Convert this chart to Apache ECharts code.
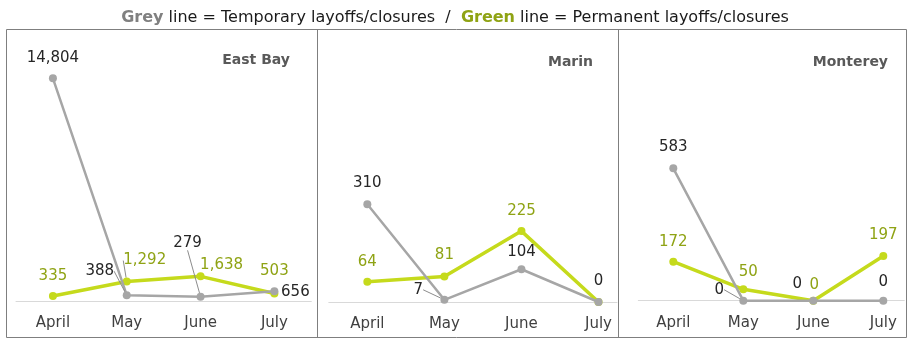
<!DOCTYPE html>
<html>
<head>
<meta charset="utf-8">
<script src="https://cdn.jsdelivr.net/npm/echarts@6/dist/echarts.min.js"></script>
<style>
  html, body { margin: 0; padding: 0; background: #fff; }
  #chart { width: 910px; height: 341px; }
</style>
</head>
<body>
<div id="chart"></div>
<script>
// Monthly layoff / closure counts by region
const months = ['April', 'May', 'June', 'July'];
const regions = ['East Bay', 'Marin', 'Monterey'];

const eastBayTemporary = [14804, 388, 279, 656];
const eastBayPermanent = [335, 1292, 1638, 503];
const marinTemporary = [310, 7, 104, 0];
const marinPermanent = [64, 81, 225, 0];
const montereyTemporary = [583, 0, 0, 0];
const montereyPermanent = [172, 50, 0, 197];

const FONT = "'DejaVu Sans', sans-serif";
const GREY = '#a6a6a6';
const GREEN = '#c5da1c';
const GREEN_TEXT = '#8fa314';
const DARK_TEXT = '#262626';

// Panel layout: plot rectangle, x range (in month index units) and y maximum
const panels = [
  { name: regions[0], temp: eastBayTemporary, perm: eastBayPermanent,
    left: 16, width: 295.3, top: 60.3, bottom: 40, xMin: -0.5, xMax: 3.5, yMax: 16000,
    titleRight: 620, titleTop: 53,
    tempOffsets: [[0, -20], [-27, -24], [-13, -54], [21, 1]],
    permOffsets: [[0, -20], [18, -21], [21, -11], [0, -22]],
    tempLeader: [false, true, true, false], permLeader: [false, true, false, false],
    permHidden: [false, false, false, false] },
  { name: regions[1], temp: marinTemporary, perm: marinPermanent,
    left: 328.8, width: 288.2, top: 49.9, bottom: 39, xMin: -0.5, xMax: 3.24, yMax: 800,
    titleRight: 317, titleTop: 55,
    tempOffsets: [[0, -21], [-26, -10], [0, -17], [0, -21]],
    permOffsets: [[0, -20], [0, -21], [0, -20], [0, -20]],
    tempLeader: [false, true, false, false], permLeader: [false, false, false, false],
    permHidden: [false, false, false, true] },
  { name: regions[2], temp: montereyTemporary, perm: montereyPermanent,
    left: 638.3, width: 266, top: 73.6, bottom: 40.3, xMin: -0.5, xMax: 3.3, yMax: 1000,
    titleRight: 22, titleTop: 55,
    tempOffsets: [[0, -21], [-24, -11], [-16, -17], [0, -19]],
    permOffsets: [[0, -20], [5, -17], [1, -16], [0, -21]],
    tempLeader: [false, true, false, false], permLeader: [false, false, false, false],
    permHidden: [false, false, false, false] }
];

const fmt = v => v.toLocaleString('en-US');

const grids = [], xAxes = [], yAxes = [], series = [];

function buildSeries(idx, values, offsets, leaders, hidden, color, textColor, lineWidth, symbolSize, z) {
  return {
    type: 'line',
    xAxisIndex: idx,
    yAxisIndex: idx,
    z: z,
    symbol: 'circle',
    symbolSize: symbolSize,
    animation: false,
    lineStyle: { color: color, width: lineWidth },
    itemStyle: { color: color },
    emphasis: { disabled: true },
    label: {
      show: true,
      fontFamily: FONT,
      fontSize: 15,
      color: textColor,
      formatter: q => fmt(q.value[1])
    },
    labelLine: { show: false, lineStyle: { color: '#8c8c8c', width: 1 } },
    labelLayout: q => {
      const o = offsets[q.dataIndex];
      const cx = q.rect.x + q.rect.width / 2;
      const cy = q.rect.y + q.rect.height / 2;
      return { x: cx + o[0], y: cy + o[1], align: 'center', verticalAlign: 'middle' };
    },
    data: values.map((v, i) => {
      const item = { value: [i, v] };
      if (leaders[i]) item.labelLine = { show: true };
      if (hidden && hidden[i]) item.label = { show: false };
      return item;
    })
  };
}

panels.forEach((p, idx) => {
  grids.push({ left: p.left, width: p.width, top: p.top, bottom: p.bottom });
  xAxes.push({
    gridIndex: idx,
    type: 'value',
    min: p.xMin,
    max: p.xMax,
    splitLine: { show: false },
    axisTick: { show: false },
    axisLine: { show: true, onZero: false, lineStyle: { color: '#d9d9d9', width: 1 } },
    axisLabel: {
      customValues: [0, 1, 2, 3],
      formatter: v => months[v] || '',
      fontFamily: FONT,
      fontSize: 15,
      color: '#404040',
      margin: 15
    }
  });
  yAxes.push({
    gridIndex: idx,
    type: 'value',
    min: 0,
    max: p.yMax,
    show: false,
    splitLine: { show: false }
  });
  series.push(buildSeries(idx, p.perm, p.permOffsets, p.permLeader, p.permHidden, GREEN, GREEN_TEXT, 3.5, 8, 2));
  series.push(buildSeries(idx, p.temp, p.tempOffsets, p.tempLeader, null, GREY, DARK_TEXT, 2.5, 8, 3));
});

const titles = [{
  text: '{g|Grey} line = Temporary layoffs/closures  /  {p|Green} line = Permanent layoffs/closures',
  left: 'center',
  top: 5,
  textStyle: {
    fontFamily: FONT, fontSize: 16, fontWeight: 'normal', color: '#1a1a1a',
    rich: {
      g: { fontFamily: FONT, fontSize: 16, fontWeight: 'bold', color: '#808080' },
      p: { fontFamily: FONT, fontSize: 16, fontWeight: 'bold', color: GREEN_TEXT }
    }
  }
}];
panels.forEach(p => {
  titles.push({
    text: p.name,
    right: p.titleRight,
    top: p.titleTop,
    padding: 0,
    textStyle: { fontFamily: FONT, fontSize: 14, fontWeight: 'bold', color: '#595959' }
  });
});

const chart = echarts.init(document.getElementById('chart'), null, { renderer: 'canvas' });
chart.setOption({
  backgroundColor: '#fff',
  animation: false,
  title: titles,
  grid: grids,
  xAxis: xAxes,
  yAxis: yAxes,
  series: series,
  graphic: [
    { type: 'rect', shape: { x: 6.5, y: 29.5, width: 900, height: 308 }, style: { fill: null, stroke: '#7f7f7f', lineWidth: 1 }, z: 100 },
    { type: 'line', shape: { x1: 317.5, y1: 29.5, x2: 317.5, y2: 337.5 }, style: { stroke: '#7f7f7f', lineWidth: 1 }, z: 100 },
    { type: 'line', shape: { x1: 618.5, y1: 29.5, x2: 618.5, y2: 337.5 }, style: { stroke: '#7f7f7f', lineWidth: 1 }, z: 100 }
  ]
});
</script>
</body>
</html>
